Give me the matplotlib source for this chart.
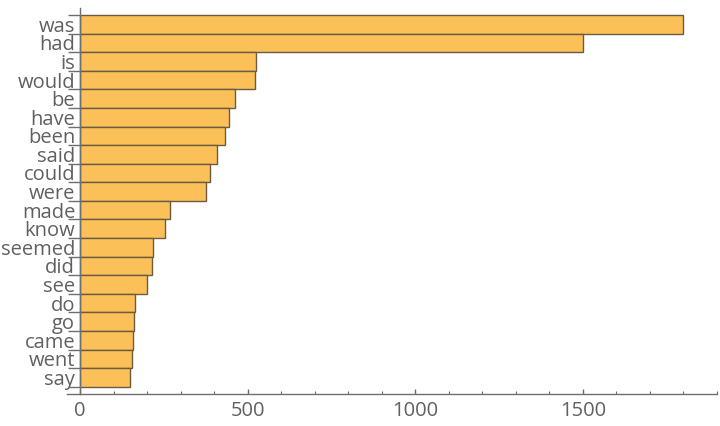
import matplotlib
matplotlib.use("Agg")
import matplotlib.pyplot as plt
import numpy as np

words = ["was", "had", "is", "would", "be", "have", "been", "said", "could", "were",
         "made", "know", "seemed", "did", "see", "do", "go", "came", "went", "say"]
counts = [1800, 1500, 524, 523, 462, 443, 432, 408, 387, 375,
          268, 253, 217, 214, 199, 164, 161, 158, 155, 149]
x_ticks = [0, 500, 1000, 1500]

plt.rcParams["font.family"] = ["Open Sans", "DejaVu Sans"]
axis_gray = "#6e6e6e"
text_gray = "#606060"

W, H = 720, 426
fig = plt.figure(figsize=(W / 100, H / 100), dpi=100)
left, right, top, bottom = 66.7, 717.0, 8.3, 394.0
ax = fig.add_axes([left / W, (H - bottom) / H, (right - left) / W, (bottom - top) / H])

n = len(words)
ypos = np.arange(n)[::-1]
ax.barh(ypos, counts, height=1.0, color="#fbc058", edgecolor="#6b5b40", linewidth=1.0)

ax.set_xlim(-40, 1895)
ax.set_ylim(-0.5 - 0.39, n - 0.5 + 0.36)

for s in ["top", "right"]:
    ax.spines[s].set_visible(False)
ax.spines["left"].set_position(("data", 0))
for s in ["left", "bottom"]:
    ax.spines[s].set_color(axis_gray)
    ax.spines[s].set_linewidth(1.0)

ax.set_yticks(ypos)
ax.set_yticklabels(words)
ax.set_yticks(np.arange(n + 1) - 0.5, minor=True)
ax.tick_params(axis="y", which="major", length=0, pad=3.5, labelsize=14.5, labelcolor=text_gray)
ax.tick_params(axis="y", which="minor", length=9, width=1.0, color=axis_gray, direction="out")

ax.set_xticks(x_ticks)
ax.set_xticks(np.arange(0, 1901, 100), minor=True)
ax.tick_params(axis="x", which="major", length=3.5, width=1.0, direction="in",
               color=axis_gray, pad=5, labelsize=14.5, labelcolor=text_gray)
ax.tick_params(axis="x", which="minor", length=2.3, width=0.8, direction="in", color=axis_gray)

fig.savefig("out.png", dpi=100)
